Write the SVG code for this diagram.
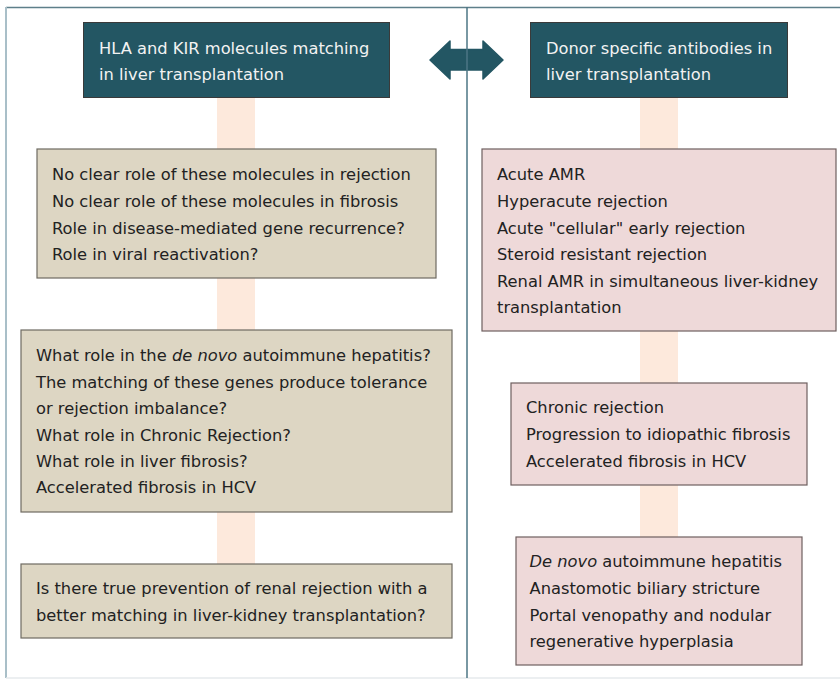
<svg xmlns="http://www.w3.org/2000/svg" width="840" height="680" viewBox="0 0 840 680">
<style>
text{font-family:"DejaVu Sans",sans-serif;font-size:16.3px;fill:#222}
.hd{fill:#235663;stroke:#3a3a3a;stroke-width:1}
.hd-t{fill:#f2f2f2}
.lb{fill:#ddd6c3;stroke:#6e6a62;stroke-width:1.2}
.rb{fill:#eed9d9;stroke:#6e5f5f;stroke-width:1.2}
.bar{fill:#fde9dc}
</style>
<rect x="0" y="0" width="840" height="680" fill="#ffffff"/>
<g id="frame">
<line x1="6" y1="7.5" x2="840" y2="7.5" stroke="#5e7f8a" stroke-width="1.5"/>
<line x1="6" y1="7" x2="6" y2="678" stroke="#a9bfc8" stroke-width="2"/>
<line x1="6" y1="678" x2="840" y2="678" stroke="#e6eaec" stroke-width="1.5"/>
</g>
<g id="connectors">
<rect class="bar" x="217" y="97" width="38" height="467"/>
<rect class="bar" x="640" y="97" width="38" height="440"/>
<polygon id="double-arrow" points="430,60 450,41 450,49.5 483,49.5 483,41 503,60 483,79 483,70 450,70 450,79" fill="#235663" stroke="#235663" stroke-width="1.5" stroke-linejoin="round"/>
</g>
<line id="divider" x1="467" y1="7" x2="467" y2="678" stroke="#4d7684" stroke-width="1.5"/>
<g id="hla-header">
<rect class="hd" x="83.5" y="22.5" width="306" height="75"/>
<text class="hd-t" x="99" y="54">HLA and KIR molecules matching</text>
<text class="hd-t" x="99" y="80">in liver transplantation</text>
</g>
<g id="dsa-header">
<rect class="hd" x="530.5" y="22.5" width="257" height="75"/>
<text class="hd-t" x="546" y="53.5">Donor specific antibodies in</text>
<text class="hd-t" x="546" y="80">liver transplantation</text>
</g>
<g id="hla-box1">
<rect class="lb" x="37" y="149" width="399" height="129"/>
<text x="52" y="180.3">No clear role of these molecules in rejection</text>
<text x="52" y="207">No clear role of these molecules in fibrosis</text>
<text x="52" y="233.7">Role in disease-mediated gene recurrence?</text>
<text x="52" y="260.3">Role in viral reactivation?</text>
</g>
<g id="hla-box2">
<rect class="lb" x="21" y="330" width="431" height="182"/>
<text x="36" y="360.7">What role in the <tspan font-style="italic">de novo</tspan> autoimmune hepatitis?</text>
<text x="36" y="387.5">The matching of these genes produce tolerance</text>
<text x="36" y="414">or rejection imbalance?</text>
<text x="36" y="440.7">What role in Chronic Rejection?</text>
<text x="36" y="467">What role in liver fibrosis?</text>
<text x="36" y="493.3">Accelerated fibrosis in HCV</text>
</g>
<g id="hla-box3">
<rect class="lb" x="21" y="564" width="431" height="74"/>
<text x="36" y="594">Is there true prevention of renal rejection with a</text>
<text x="36" y="621">better matching in liver-kidney transplantation?</text>
</g>
<g id="dsa-box1">
<rect class="rb" x="482" y="149" width="354" height="182"/>
<text x="497" y="180.3">Acute AMR</text>
<text x="497" y="207">Hyperacute rejection</text>
<text x="497" y="233.5">Acute "cellular" early rejection</text>
<text x="497" y="260">Steroid resistant rejection</text>
<text x="497" y="286.7">Renal AMR in simultaneous liver-kidney</text>
<text x="497" y="313.3">transplantation</text>
</g>
<g id="dsa-box2">
<rect class="rb" x="511" y="383" width="296" height="102"/>
<text x="526" y="413.3">Chronic rejection</text>
<text x="526" y="440">Progression to idiopathic fibrosis</text>
<text x="526" y="466.7">Accelerated fibrosis in HCV</text>
</g>
<g id="dsa-box3">
<rect class="rb" x="516" y="537" width="286" height="128"/>
<text x="529.5" y="567.3"><tspan font-style="italic">De novo</tspan> autoimmune hepatitis</text>
<text x="529.5" y="594.3">Anastomotic biliary stricture</text>
<text x="529.5" y="621">Portal venopathy and nodular</text>
<text x="529.5" y="647.3">regenerative hyperplasia</text>
</g>
</svg>
